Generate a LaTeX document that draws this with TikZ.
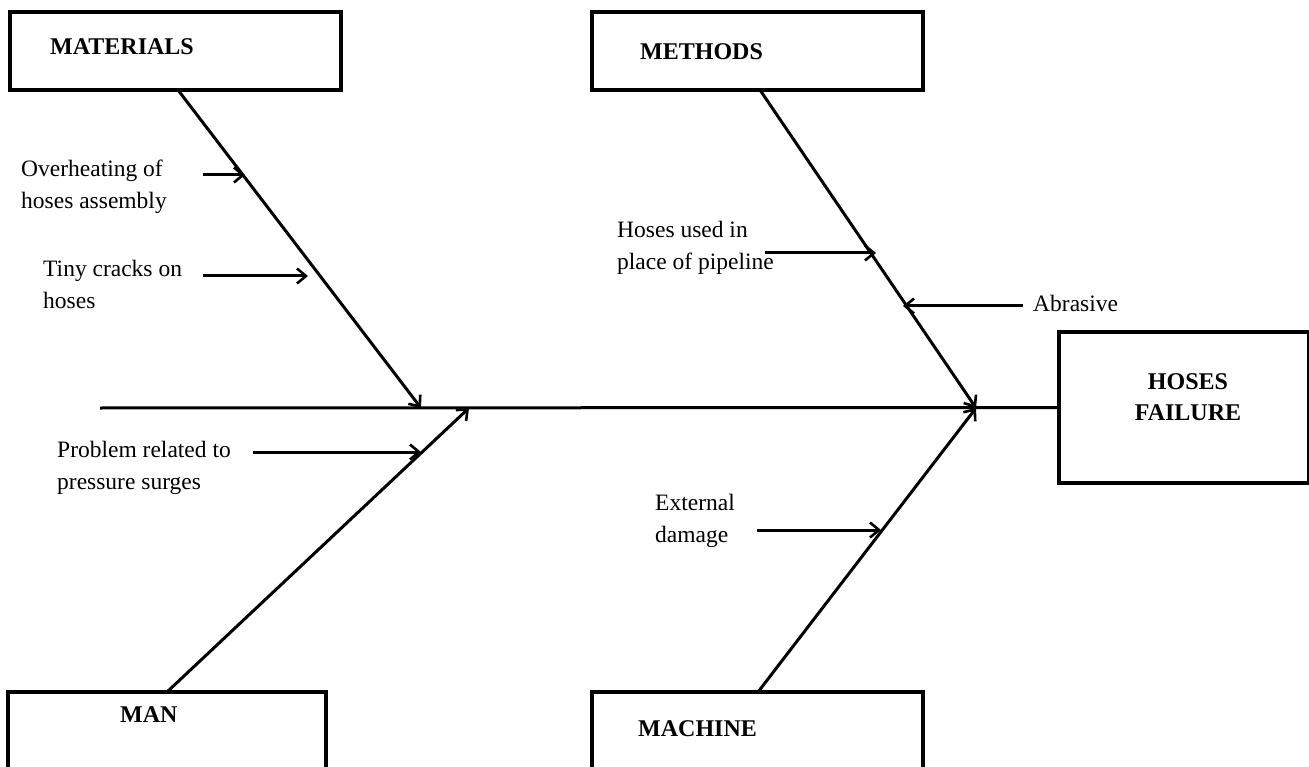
\documentclass[tikz,border=0pt]{standalone}
\usepackage{fontspec}
\setmainfont{Liberation Serif}
\usetikzlibrary{arrows.meta}
\begin{document}
\begin{tikzpicture}[x=1pt,y=-1pt,
  box/.style={draw,line width=3.2pt,rectangle,inner sep=0pt},
  bone/.style={line width=3pt},
  cause/.style={line width=3pt,-{Straight Barb[length=9pt,width=15pt,line width=2.6pt]}},
  lbl/.style={inner sep=0pt,anchor=west,align=left,font=\fontsize{23.5}{32}\selectfont},
  head/.style={inner sep=0pt,anchor=west,font=\fontsize{24}{30}\selectfont\bfseries}]
\useasboundingbox (0,0) rectangle (1309,767);
\clip (0,0) rectangle (1309,767);
\fill[white] (0,0) rectangle (1309,767);
% boxes
\node[box,minimum width=331pt,minimum height=78pt] (matbox) at (175.5,51) {};
\node[box,minimum width=331pt,minimum height=78pt] (metbox) at (757.5,51) {};
\node[box,minimum width=318pt,minimum height=120pt] (manbox) at (167,752) {};
\node[box,minimum width=331pt,minimum height=120pt] (macbox) at (757.5,752) {};
\node[box,minimum width=250pt,minimum height=151pt] (effbox) at (1184,407.5) {};
% headings
\node[head] (mat) at (50,47) {MATERIALS};
\node[head] (met) at (640,52) {METHODS};
\node[head] (man) at (120,715) {MAN};
\node[head] (mac) at (638,729) {MACHINE};
\node[inner sep=0pt,align=center,font=\fontsize{24}{31}\selectfont\bfseries] (eff) at (1188,397) {HOSES\\FAILURE};
% spine and bones
\coordinate (sp0) at (100,408);
\coordinate (matroot) at (178,90);
\coordinate (metroot) at (760,90);
\coordinate (manroot) at (167,692);
\coordinate (macroot) at (758,692);
\coordinate (matend) at (421,408);
\coordinate (metend) at (976,408);
\coordinate (manend) at (469,408);
\coordinate (macend) at (976,408);
\draw[bone] (sp0) -- (effbox.west);
\draw[cause] (matroot) -- (matend);
\draw[cause] (metroot) -- (metend);
\draw[cause] (manroot) -- (manend);
\draw[cause] (macroot) -- (macend);
% cause labels
\node[lbl] (c1) at (21,187) {Overheating of\\hoses assembly};
\node[lbl] (c2) at (43,284) {Tiny cracks on\\hoses};
\node[lbl] (c3) at (57,468) {Problem related to\\pressure surges};
\node[lbl] (c4) at (617,248) {Hoses used in\\place of pipeline};
\node[lbl] (c5) at (1033,303) {Abrasive};
\node[lbl] (c6) at (655,521) {External\\damage};
% small arrows
\coordinate (a1s) at (203,175); \coordinate (a1e) at (245,175);
\coordinate (a2s) at (203,276); \coordinate (a2e) at (308,276);
\coordinate (a3s) at (253,452); \coordinate (a3e) at (421,452);
\coordinate (a4s) at (765,253); \coordinate (a4e) at (876,253);
\coordinate (a5s) at (1023,306); \coordinate (a5e) at (903,306);
\coordinate (a6s) at (757,530); \coordinate (a6e) at (881,530);
\draw[cause] (a1s) -- (a1e);
\draw[cause] (a2s) -- (a2e);
\draw[cause] (a3s) -- (a3e);
\draw[cause] (a4s) -- (a4e);
\draw[cause] (a5s) -- (a5e);
\draw[cause] (a6s) -- (a6e);
\end{tikzpicture}
\end{document}
